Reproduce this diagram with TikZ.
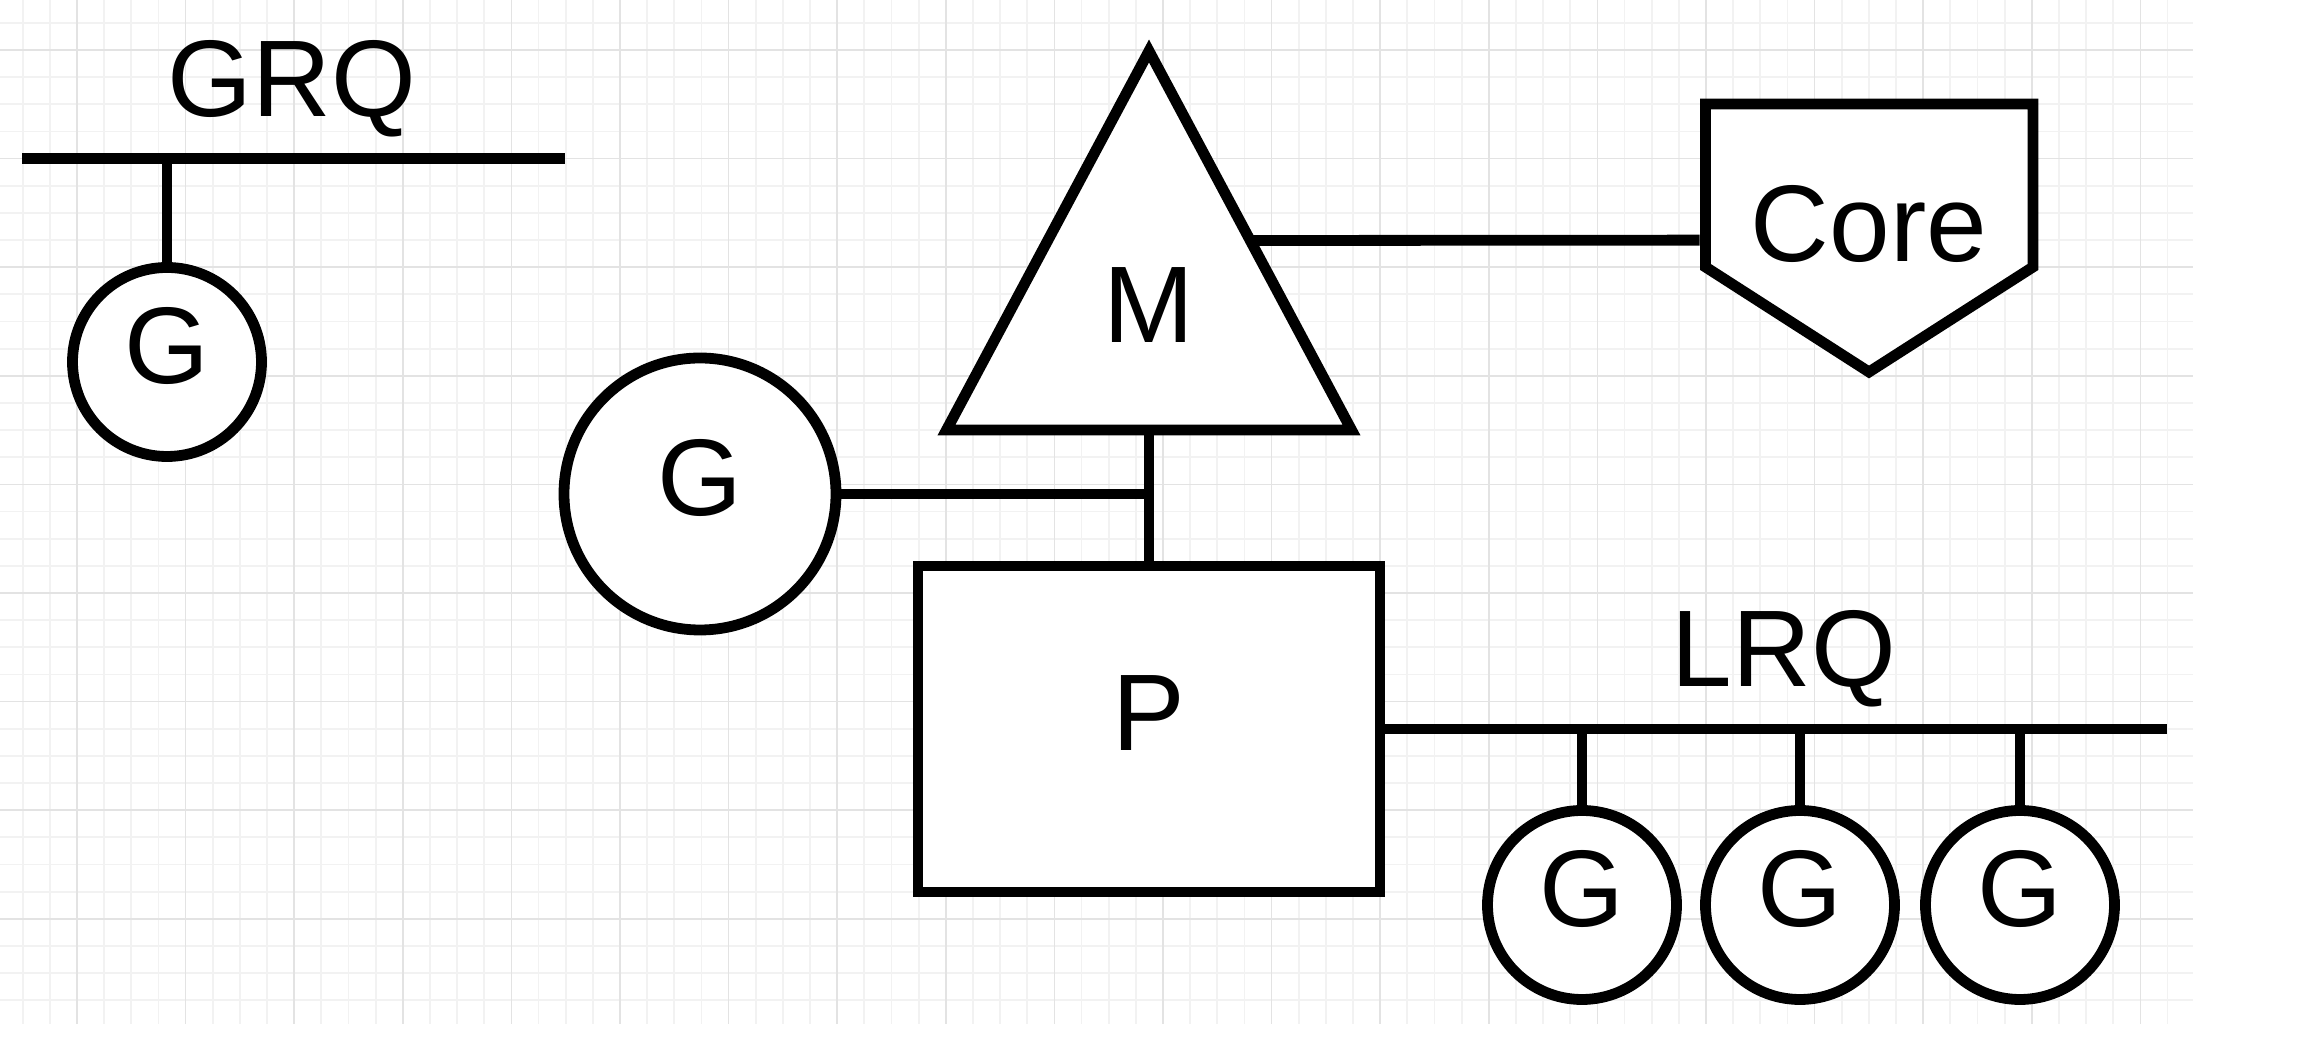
\documentclass[tikz,border=0pt]{standalone}
\usepackage{fontspec}
\setmainfont{Liberation Sans}
\usetikzlibrary{shapes.geometric}

\begin{document}
\begin{tikzpicture}
	[line width=1.08mm,font=\fontsize{31}{37}\selectfont,
	g node/.style={shape=circle,draw,fill=white,minimum size=1.89cm,inner sep=0pt,text height=.44cm,text depth=0pt},
	big node/.style={g node,minimum size=2.72cm},
	p node/.style={shape=rectangle,draw,fill=white,minimum width=4.62cm,minimum height=3.26cm,inner sep=0pt,text height=.44cm,text depth=0pt},
	m node/.style={shape=isosceles triangle,isosceles triangle stretches,shape border rotate=90,draw,fill=white,minimum width=4.05cm,minimum height=3.79cm,inner sep=0pt,outer sep=0pt},
	core node/.style={minimum width=3.28cm,minimum height=2.68cm,inner sep=0pt,text height=.44cm,text depth=0pt},
	label node/.style={anchor=base,inner sep=0pt},
	minor grid/.style={line width=.5pt,black!5},
	major grid/.style={line width=.5pt,black!11}]
	\path [use as bounding box,fill=white] (0,0) rectangle (23.08,-10.46);
	\begin{scope}[shift={(.77,-.5)}]
	\draw [minor grid,step=.2715] (-.77,.5) grid (21.16,-9.74);
	\draw [major grid,step=1.086] (-.77,.5) grid (21.16,-9.74);
	\end{scope}
	
	\node [g node] (g) at (1.67,-3.62) {G};
	\node [big node] (bigg) at (7,-4.94) {G};
	\node [m node,anchor=lower side] (mtri) at (11.49,-4.3) {};
	\node [label node] (m) at (11.49,-3.43) {M};
	\draw [fill=white] (17.055,-1.04) -- (20.33,-1.04) -- (20.33,-2.67) -- (18.69,-3.72) -- (17.055,-2.67) -- cycle;
	\node [core node] (core) at (18.69,-2.4) {Core};
	\node [p node] (p) at (11.49,-7.29) {P};
	\node [g node] (g1) at (15.82,-9.05) {G};
	\node [g node] (g2) at (18,-9.05) {G};
	\node [g node] (g3) at (20.2,-9.05) {G};
	\node [label node] (grq) at (2.92,-1.17) {GRQ};
	\node [label node] (lrq) at (17.84,-6.87) {LRQ};
	
	\coordinate (grq left) at (.22,-1.585);
	\coordinate (grq right) at (5.65,-1.585);
	\coordinate (grq stem) at (1.67,-1.585);
	\coordinate (lrq right) at (21.67,-7.29);
	\coordinate (s1) at (15.82,-7.29);
	\coordinate (s2) at (18,-7.29);
	\coordinate (s3) at (20.2,-7.29);
	\coordinate (j) at (bigg -| p);
	
	\path[]
	(grq left) edge (grq right)
	(grq stem) edge (g)
	(bigg) edge (j)
	(mtri.lower side) edge (p)
	(mtri.right side) edge (core)
	(p) edge (lrq right)
	(s1) edge (g1)
	(s2) edge (g2)
	(s3) edge (g3)
	;
	
\end{tikzpicture}
\end{document}
